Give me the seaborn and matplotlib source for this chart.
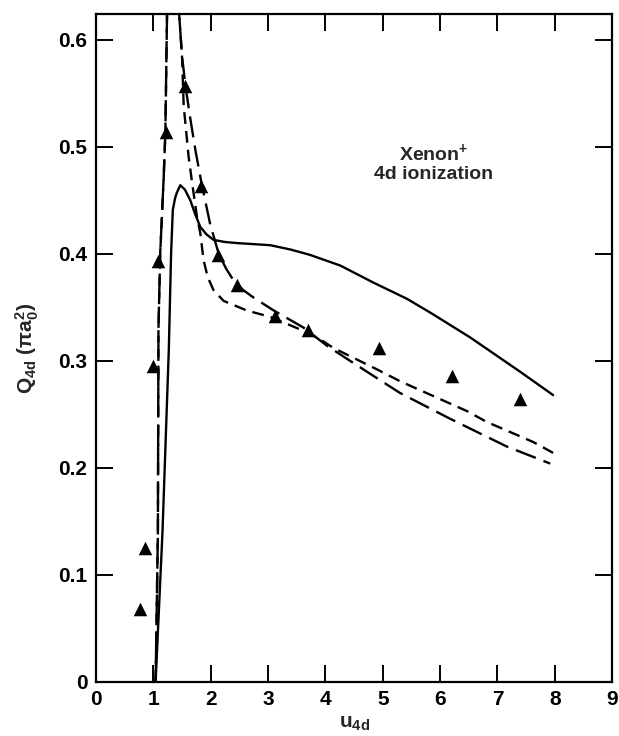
import matplotlib
matplotlib.use("Agg")
import matplotlib.pyplot as plt
import seaborn as sns

# --- data ---
# experimental points (triangles)
exp_u = [0.77, 0.86, 1.00, 1.09, 1.22, 1.56, 1.84, 2.13, 2.46, 3.13, 3.70, 4.94, 6.20, 7.39]
exp_q = [0.068, 0.125, 0.295, 0.393, 0.514, 0.557, 0.463, 0.399, 0.371, 0.342, 0.329, 0.312, 0.286, 0.264]

# solid theory curve
solid_u = [1.04, 1.16, 1.27, 1.31, 1.34, 1.38, 1.41, 1.47, 1.55, 1.645, 1.73, 1.82, 1.93, 2.05, 2.25,
           2.46, 3.04, 3.39, 3.73, 4.26, 4.84, 5.42, 5.83, 6.52, 7.39, 7.97]
solid_q = [0.0, 0.14, 0.31, 0.40, 0.441, 0.452, 0.457, 0.464, 0.460, 0.450, 0.437, 0.425, 0.418, 0.413, 0.411,
           0.410, 0.408, 0.404, 0.399, 0.389, 0.373, 0.358, 0.345, 0.322, 0.290, 0.268]

# long-dashed theory curve (goes off the top between u~1.24 and u~1.44)
long_u = [1.04, 1.08, 1.09, 1.12, 1.18, 1.21, 1.24, 1.34, 1.43, 1.50, 1.56, 1.64, 1.73, 1.84, 1.99,
          2.14, 2.27, 2.40, 2.57, 2.75, 3.10, 3.62, 4.03, 4.43, 5.30, 6.17, 7.16, 7.92]
long_q = [0.0, 0.14, 0.33, 0.40, 0.47, 0.513, 0.626, 0.80, 0.64, 0.585, 0.557, 0.528, 0.498, 0.466, 0.428,
          0.400, 0.386, 0.375, 0.366, 0.359, 0.347, 0.331, 0.314, 0.300, 0.270, 0.246, 0.220, 0.204]

# short-dashed theory curve
short_u = [1.04, 1.08, 1.09, 1.12, 1.18, 1.21, 1.24, 1.34, 1.43, 1.50, 1.53, 1.615, 1.68, 1.76, 1.82,
           1.876, 1.95, 2.05, 2.225, 2.63, 3.04, 3.62, 3.91, 4.14, 4.90, 5.30, 6.47, 6.81, 7.63, 7.97]
short_q = [0.0, 0.14, 0.33, 0.40, 0.47, 0.513, 0.626, 0.80, 0.64, 0.585, 0.538, 0.491, 0.465, 0.435, 0.419,
           0.394, 0.378, 0.366, 0.356, 0.347, 0.341, 0.328, 0.320, 0.312, 0.292, 0.281, 0.253, 0.243, 0.224, 0.214]

x_ticks = [0, 1, 2, 3, 4, 5, 6, 7, 8, 9]
y_ticks = [0, 0.1, 0.2, 0.3, 0.4, 0.5, 0.6]
y_tick_labels = ["0", "0.1", "0.2", "0.3", "0.4", "0.5", "0.6"]

sns.set_theme(style="ticks")
plt.rcParams["font.family"] = ["Liberation Sans", "DejaVu Sans"]
plt.rcParams["font.weight"] = "bold"
plt.rcParams["mathtext.fontset"] = "custom"
plt.rcParams["mathtext.rm"] = "Liberation Sans:bold"
plt.rcParams["mathtext.bf"] = "Liberation Sans:bold"
plt.rcParams["mathtext.it"] = "Liberation Sans:bold:italic"
plt.rcParams["mathtext.default"] = "bf"

fig = plt.figure(figsize=(6.19, 7.36), dpi=100)
ax = fig.add_axes([0.155, 0.0734, 0.834, 0.9076])

lw = 1.7
sns.lineplot(x=solid_u, y=solid_q, ax=ax, color="black", linewidth=lw, sort=False)
sns.lineplot(x=long_u, y=long_q, ax=ax, color="black", linewidth=lw, sort=False,
             linestyle=(0, (9, 3.5)))
sns.lineplot(x=short_u, y=short_q, ax=ax, color="black", linewidth=lw, sort=False,
             linestyle=(0, (5, 3)))
sns.scatterplot(x=exp_u, y=exp_q, ax=ax, marker="^", s=95, color="black",
                edgecolor="black", linewidth=0, zorder=5)

ax.set_xlim(0, 9)
ax.set_ylim(0, 0.624)
ax.set_xticks(x_ticks)
ax.set_xticklabels([str(t) for t in x_ticks])
ax.set_yticks(y_ticks)
ax.set_yticklabels(y_tick_labels)

ax.tick_params(direction="in", length=12, width=1.4, top=True, right=True,
               labelsize=15, pad=6, colors="black")
for lab in ax.get_xticklabels() + ax.get_yticklabels():
    lab.set_fontweight("bold")
for sp in ax.spines.values():
    sp.set_visible(True)
    sp.set_linewidth(1.6)
    sp.set_color("black")

ax.set_ylabel(r"Q$_{4d}$ ($\pi$a$_0^2$)", fontsize=15, fontweight="bold")
ax.yaxis.set_label_coords(-0.107, 0.5)
ax.set_xlabel(r"u$_{4d}$", fontsize=15, fontweight="bold")
# the reference crops this label at the bottom edge; keep it just inside
ax.xaxis.set_label_coords(0.5, -0.048)

ax.text(5.88, 0.485, "Xenon$^{+}$\n4d ionization", ha="center", va="center",
        fontsize=14, fontweight="bold", linespacing=1.15)

fig.savefig("out.png", dpi=100, facecolor="white")
plt.close(fig)
